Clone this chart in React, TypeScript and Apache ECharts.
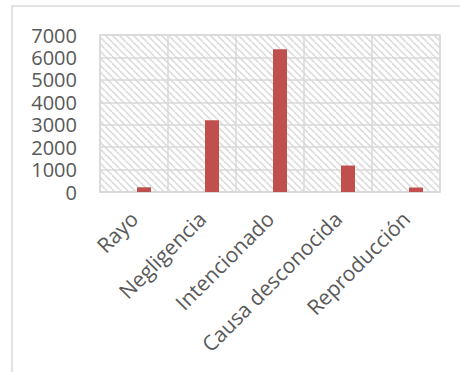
import React, { useEffect, useRef } from "react";
import * as echarts from "echarts";

// Causes of fires and their counts
const categories = ["Rayo", "Negligencia", "Intencionado", "Causa desconocida", "Reproducción"];
const counts = [210, 3200, 6360, 1180, 200];
const emptyCounts = [null, null, null, null, null];
const yTicks = { min: 0, max: 7000, interval: 1000 };

const GRAY_TEXT = "#595959";
const GRID_GRAY = "#d9d9d9";
const BAR_RED = "#c0504d";
const FONT = "'Open Sans', 'Noto Sans', sans-serif";

// Diagonal "\" hatch used as the plot-area fill
function makeHatch(): HTMLCanvasElement {
  const s = 7;
  const c = document.createElement("canvas");
  c.width = s;
  c.height = s;
  const ctx = c.getContext("2d")!;
  ctx.fillStyle = "#ffffff";
  ctx.fillRect(0, 0, s, s);
  ctx.strokeStyle = "#dcdcdc";
  ctx.lineWidth = 1.6;
  for (const o of [-s, 0, s]) {
    ctx.beginPath();
    ctx.moveTo(o, 0);
    ctx.lineTo(o + s, s);
    ctx.stroke();
  }
  return c;
}

export default function App() {
  const ref = useRef<HTMLDivElement>(null);

  useEffect(() => {
    if (!ref.current) return;
    const chart = echarts.init(ref.current, null, { renderer: "svg" });
    const hatch = makeHatch();
    chart.setOption({
      animation: false,
      backgroundColor: "#ffffff",
      graphic: [
        {
          type: "rect",
          shape: { x: 12, y: 6, width: 520, height: 420 },
          style: { fill: "none", stroke: GRID_GRAY, lineWidth: 1.5 },
          silent: true,
          z: -1,
        },
      ],
      grid: {
        left: 100,
        right: 20,
        top: 35,
        bottom: 180,
        show: true,
        backgroundColor: { image: hatch, repeat: "repeat" },
        borderColor: GRID_GRAY,
        borderWidth: 1.5,
      },
      xAxis: {
        type: "category",
        data: categories,
        axisTick: { show: false },
        axisLine: { lineStyle: { color: GRID_GRAY, width: 1.5 } },
        splitLine: { show: true, lineStyle: { color: GRID_GRAY, width: 1.5 } },
        axisLabel: {
          rotate: 45,
          interval: 0,
          margin: 23,
          color: GRAY_TEXT,
          fontFamily: FONT,
          fontSize: 21,
        },
      },
      yAxis: {
        type: "value",
        min: yTicks.min,
        max: yTicks.max,
        interval: yTicks.interval,
        axisLine: { show: false },
        axisTick: { show: false },
        splitLine: { lineStyle: { color: GRID_GRAY, width: 1.5 } },
        axisLabel: {
          margin: 23,
          color: GRAY_TEXT,
          fontFamily: FONT,
          fontSize: 20,
          lineHeight: 20,
          formatter: (v: number) => String(v),
        },
      },
      series: [
        {
          type: "bar",
          data: emptyCounts,
          barWidth: 14,
          barGap: "43%",
          itemStyle: { color: BAR_RED },
        },
        {
          type: "bar",
          data: counts,
          barWidth: 14,
          barGap: "43%",
          itemStyle: { color: BAR_RED },
        },
      ],
    });
    return () => chart.dispose();
  }, []);

  return (
    <div style={{ position: "fixed", left: 0, top: 0, width: 460, height: 372, background: "#fff" }}>
      <div ref={ref} style={{ width: 460, height: 372 }} />
    </div>
  );
}
